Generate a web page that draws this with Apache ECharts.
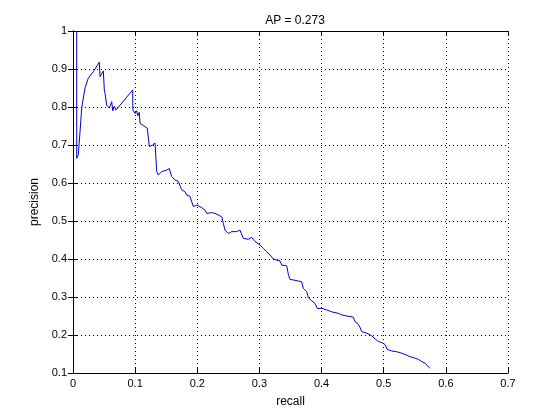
<!DOCTYPE html>
<html>
<head>
<meta charset="utf-8">
<script src="https://cdn.jsdelivr.net/npm/echarts@6/dist/echarts.min.js"></script>
<style>
html,body{margin:0;padding:0;background:#fff;}
#c{width:560px;height:419px;}
</style>
</head>
<body>
<div id="c"></div>
<script>
var titleText = 'AP = 0.273';
var xName = 'recall';
var yName = 'precision';
var xTicks = [0, 0.1, 0.2, 0.3, 0.4, 0.5, 0.6, 0.7];
var yTicks = [0.1, 0.2, 0.3, 0.4, 0.5, 0.6, 0.7, 0.8, 0.9, 1];

var recall = [0.006,0.006,0.0075,0.0085,0.0113,0.014,0.0193,0.0246,0.0327,0.0423,0.0435,0.0488,0.0504,0.0515,0.0542,0.0555,0.0584,0.0623,0.0639,0.0665,0.0692,0.0961,0.0963,0.0998,0.1025,0.1041,0.1067,0.1078,0.1159,0.1196,0.1228,0.128,0.132,0.1335,0.1347,0.1373,0.1427,0.1508,0.155,0.1588,0.1641,0.1695,0.1749,0.1802,0.183,0.1883,0.191,0.1936,0.1991,0.2016,0.2044,0.2124,0.2152,0.2232,0.2285,0.2338,0.2393,0.2419,0.2446,0.2499,0.2554,0.2634,0.2687,0.2741,0.2821,0.2876,0.2929,0.3009,0.3062,0.3117,0.317,0.3223,0.3278,0.3331,0.3359,0.3439,0.3465,0.3492,0.3545,0.3626,0.368,0.3706,0.3761,0.3787,0.3841,0.3894,0.3931,0.4002,0.4083,0.4163,0.4269,0.4324,0.4405,0.4511,0.4538,0.4591,0.4619,0.4646,0.4726,0.4807,0.486,0.4913,0.4968,0.5021,0.5058,0.5129,0.5209,0.529,0.537,0.5423,0.5504,0.5557,0.5612,0.5665,0.5692,0.5745];
var precision = [1.0,0.665,0.66,0.674,0.735,0.797,0.85,0.876,0.893,0.918,0.88,0.895,0.845,0.836,0.805,0.81,0.797,0.814,0.79,0.802,0.792,0.845,0.792,0.783,0.79,0.777,0.786,0.757,0.748,0.744,0.696,0.70,0.705,0.665,0.63,0.621,0.63,0.634,0.638,0.617,0.608,0.604,0.582,0.577,0.568,0.565,0.57,0.538,0.542,0.545,0.538,0.529,0.52,0.522,0.52,0.516,0.511,0.494,0.476,0.467,0.472,0.472,0.476,0.454,0.452,0.457,0.446,0.437,0.428,0.419,0.411,0.40,0.397,0.395,0.384,0.382,0.36,0.346,0.345,0.342,0.34,0.323,0.314,0.298,0.29,0.283,0.27,0.27,0.266,0.261,0.257,0.253,0.25,0.247,0.235,0.228,0.22,0.209,0.205,0.198,0.19,0.183,0.18,0.175,0.162,0.158,0.156,0.152,0.147,0.143,0.139,0.136,0.13,0.126,0.121,0.112];

var pts = recall.map(function(r, i){ return [r, precision[i]]; });

var FONT = 'Liberation Sans';
var chart = echarts.init(document.getElementById('c'), null, {renderer: 'canvas'});

function fmtX(v){ return xTicks.indexOf(Math.round(v*10)/10) >= 0 ? String(Math.round(v*10)/10) : ''; }
function fmtY(v){ var r = Math.round(v*10)/10; return String(r); }

var axisBase = {
  axisLine: {show: true, lineStyle: {color: '#000', width: 1}},
  axisTick: {show: true, inside: true, length: 5, lineStyle: {color: '#000'}},
  splitLine: {show: false}
};

chart.setOption({
  animation: false,
  backgroundColor: '#fff',
  title: {
    text: titleText, left: 290, top: 10, textAlign: 'center',
    textStyle: {fontFamily: FONT, fontSize: 12, fontWeight: 'normal', color: '#000'}
  },
  grid: {left: 73, top: 31, width: 435, height: 342, show: false},
  xAxis: [
    Object.assign({}, axisBase, {
      type: 'value', min: 0, max: 0.7, interval: 0.1, position: 'bottom',
      name: xName, nameLocation: 'middle', nameGap: 23,
      nameTextStyle: {fontFamily: FONT, fontSize: 12, color: '#000'},
      axisLabel: {fontFamily: FONT, fontSize: 11, color: '#000', margin: 5, formatter: fmtX},
      splitLine: {show: true, lineStyle: {color: '#000', type: [1, 3], width: 1}}
    }),
    Object.assign({}, axisBase, {
      type: 'value', min: 0, max: 0.7, interval: 0.1, position: 'top',
      axisLabel: {show: false}
    })
  ],
  yAxis: [
    Object.assign({}, axisBase, {
      type: 'value', min: 0.1, max: 1, interval: 0.1, position: 'left',
      name: yName, nameLocation: 'middle', nameGap: 29,
      nameTextStyle: {fontFamily: FONT, fontSize: 12, color: '#000'},
      axisLabel: {fontFamily: FONT, fontSize: 11, color: '#000', margin: 6, formatter: fmtY},
      splitLine: {show: true, lineStyle: {color: '#000', type: [1, 3], width: 1}}
    }),
    Object.assign({}, axisBase, {
      type: 'value', min: 0.1, max: 1, interval: 0.1, position: 'right',
      axisLabel: {show: false}
    })
  ],
  series: [{
    type: 'line',
    data: pts,
    xAxisIndex: 0, yAxisIndex: 0,
    showSymbol: false,
    symbol: 'none',
    lineStyle: {color: '#0000c8', width: 1},
    z: 5
  }]
});
</script>
</body>
</html>
